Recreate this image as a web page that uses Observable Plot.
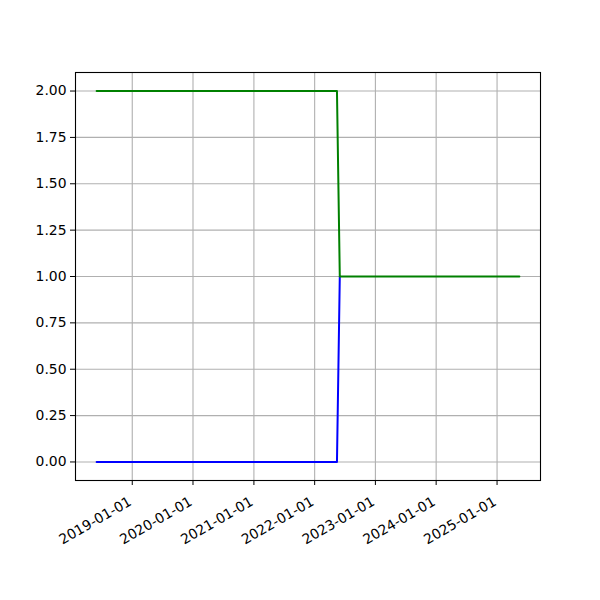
<!DOCTYPE html>
<html>
<head>
<meta charset="utf-8">
<script src="https://cdn.jsdelivr.net/npm/d3@7"></script>
<script src="https://cdn.jsdelivr.net/npm/@observablehq/plot@0.6"></script>
<style>
html,body{margin:0;padding:0;background:#fff;}
</style>
</head>
<body>
<div id="chart"></div>
<script>
const blueDates = ["2018-06-01", "2022-05-15", "2022-06-01"];
const blueValues = [0, 0, 1];
const greenDates = ["2018-06-01", "2022-05-15", "2022-06-01", "2025-05-15"];
const greenValues = [2, 2, 1, 1];
const xTickLabels = ["2019-01-01", "2020-01-01", "2021-01-01", "2022-01-01", "2023-01-01", "2024-01-01", "2025-01-01"];
const yTicks = [0, 0.25, 0.5, 0.75, 1, 1.25, 1.5, 1.75, 2];

const blue = blueDates.map((d, i) => ({date: new Date(d + "T00:00:00Z"), value: blueValues[i]}));
const green = greenDates.map((d, i) => ({date: new Date(d + "T00:00:00Z"), value: greenValues[i]}));
const xTicks = xTickLabels.map(d => new Date(d + "T00:00:00Z"));
const xLabelData = xTickLabels.map((label, i) => ({date: xTicks[i], label}));

const all = blue.concat(green);
const [x0, x1] = d3.extent(all, d => d.date);
const pad = (x1 - x0) * 0.05;
const [y0, y1] = d3.extent(all, d => d.value);
const ypad = (y1 - y0) * 0.05;

const font = "DejaVu Sans";
const chart = Plot.plot({
  width: 600,
  height: 600,
  marginLeft: 75,
  marginRight: 60,
  marginTop: 72,
  marginBottom: 120,
  style: {fontFamily: font, fontSize: "13.9px", color: "black", background: "white"},
  x: {type: "utc", domain: [new Date(+x0 - pad), new Date(+x1 + pad)]},
  y: {domain: [y0 - ypad, y1 + ypad]},
  marks: [
    Plot.gridX(xTicks, {stroke: "#b0b0b0", strokeOpacity: 1, strokeWidth: 1.1}),
    Plot.gridY(yTicks, {stroke: "#b0b0b0", strokeOpacity: 1, strokeWidth: 1.1}),
    Plot.line(blue, {x: "date", y: "value", stroke: "blue", strokeWidth: 2}),
    Plot.line(green, {x: "date", y: "value", stroke: "green", strokeWidth: 2}),
    Plot.axisX({ticks: xTicks, tickFormat: () => "", tickSize: 5, label: null, stroke: "black"}),
    Plot.text(xLabelData, {x: "date", text: "label", frameAnchor: "bottom", rotate: -30, textAnchor: "end", lineAnchor: "middle", dx: -2, dy: 20, fill: "black", fontSize: 13.9}),
    Plot.axisY({ticks: yTicks, tickFormat: d3.format(".2f"), tickSize: 5, tickPadding: 4, label: null, stroke: "black", fill: "black", fontSize: 13.9}),
    Plot.frame({stroke: "black", strokeWidth: 1.1})
  ]
});
document.getElementById("chart").appendChild(chart);
</script>
</body>
</html>
